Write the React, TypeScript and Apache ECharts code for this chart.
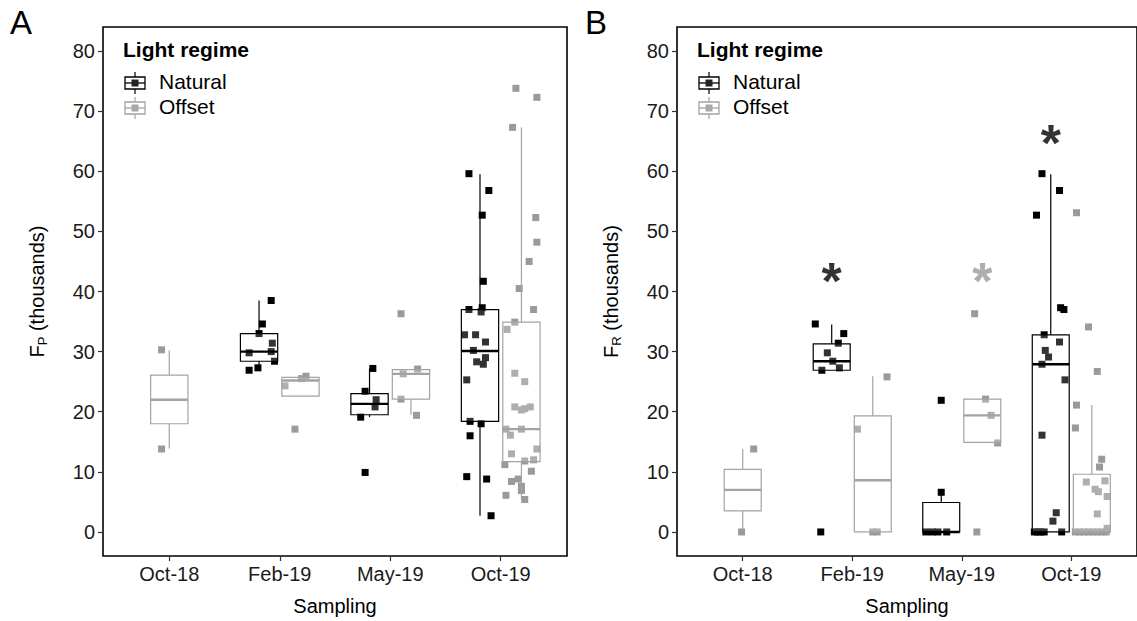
import React, { useEffect, useRef } from "react";
import * as echarts from "echarts";

// ---------------- data ----------------
const categories = ["Oct-18", "Feb-19", "May-19", "Oct-19"];
const yTicks = [0, 10, 20, 30, 40, 50, 60, 70, 80];
const groups = ["Natural", "Offset"];

// box statistics: [category (1-based), lower whisker, q1, median, q3, upper whisker]
const natBoxA = [
  [2, 26.9, 28.4, 30.0, 33.0, 38.5],
  [3, 19.1, 19.5, 21.3, 23.0, 27.2],
  [4, 2.7, 18.4, 30.1, 37.0, 59.5],
];
const offBoxA = [
  [1, 13.9, 18.0, 22.0, 26.1, 30.2],
  [2, 22.6, 22.6, 25.2, 25.7, 25.9],
  [3, 19.5, 22.1, 26.3, 27.0, 27.1],
  [4, 5.4, 11.7, 17.1, 34.9, 67.3],
];
const natBoxB = [
  [2, 26.9, 26.9, 28.4, 31.3, 34.5],
  [3, 0, 0, 0, 4.9, 6.6],
  [4, 0, 0, 27.9, 32.8, 59.5],
];
const offBoxB = [
  [1, 0, 3.5, 7.0, 10.4, 13.8],
  [2, 0, 0, 8.6, 19.3, 25.9],
  [3, 14.9, 14.9, 19.4, 22.1, 22.1],
  [4, 0, 0, 0, 9.6, 21.1],
];

// individual observations: [category, jitter (category units), value in thousands]
const natPtsA = [
  [2, 0.11, 38.5], [2, 0.03, 34.6], [2, 0.0, 33.0], [2, 0.12, 31.4], [2, -0.09, 29.8], [2, 0.11, 30.0], [2, 0.14, 28.4], [2, -0.01, 27.3], [2, -0.09, 26.9],
  [3, 0.03, 27.2], [3, -0.04, 23.4], [3, 0.06, 22.0], [3, 0.05, 20.8], [3, -0.08, 19.1], [3, -0.04, 9.9],
  [4, -0.10, 59.6], [4, 0.08, 56.8], [4, 0.02, 52.7], [4, 0.03, 41.7], [4, -0.10, 37.0], [4, 0.02, 37.3], [4, 0.01, 36.6], [4, -0.14, 32.8], [4, -0.04, 32.8], [4, 0.05, 31.6], [4, -0.06, 30.2], [4, 0.05, 29.0], [4, -0.03, 28.3], [4, 0.03, 27.9], [4, -0.12, 25.3], [4, -0.09, 18.4], [4, 0.01, 18.0], [4, -0.09, 16.0], [4, -0.12, 9.2], [4, 0.06, 8.8], [4, 0.10, 2.7],
];
const offPtsA = [
  [1, -0.07, 30.3], [1, -0.07, 13.8],
  [2, 0.05, 25.9], [2, 0.01, 25.5], [2, -0.14, 24.3], [2, -0.05, 17.1],
  [3, -0.09, 36.3], [3, -0.07, 26.3], [3, 0.06, 27.1], [3, -0.09, 22.1], [3, 0.05, 19.4],
  [4, -0.05, 73.8], [4, 0.14, 72.3], [4, -0.08, 67.3], [4, 0.13, 52.3], [4, 0.14, 48.2], [4, 0.07, 45.0], [4, -0.02, 40.5], [4, 0.11, 37.0], [4, -0.06, 34.9], [4, -0.13, 33.7], [4, -0.06, 26.4], [4, 0.03, 25.0], [4, -0.06, 20.8], [4, 0.0, 20.3], [4, 0.08, 20.8], [4, 0.03, 20.5], [4, -0.14, 17.1], [4, 0.0, 17.1], [4, -0.10, 16.1], [4, -0.09, 13.0], [4, 0.14, 13.8], [4, -0.15, 11.2], [4, 0.03, 11.8], [4, 0.11, 12.0], [4, 0.09, 10.1], [4, -0.09, 8.4], [4, -0.03, 8.8], [4, 0.0, 7.6], [4, 0.0, 6.9], [4, -0.14, 6.1], [4, 0.03, 5.4],
];
const natPtsB = [
  [2, -0.15, 34.6], [2, 0.11, 33.0], [2, 0.06, 31.4], [2, -0.04, 29.8], [2, 0.01, 28.4], [2, 0.07, 27.3], [2, -0.09, 26.9], [2, -0.10, 0],
  [3, 0.0, 21.9], [3, 0.0, 6.6], [3, -0.14, 0], [3, -0.08, 0], [3, -0.03, 0], [3, 0.05, 0],
  [4, -0.08, 59.6], [4, 0.08, 56.8], [4, -0.13, 52.7], [4, 0.09, 37.3], [4, 0.12, 37.0], [4, -0.06, 32.8], [4, 0.08, 31.6], [4, -0.05, 30.2], [4, -0.02, 29.1], [4, -0.08, 27.9], [4, 0.13, 25.3], [4, -0.08, 16.1], [4, 0.05, 3.2], [4, 0.02, 1.8], [4, -0.15, 0], [4, -0.12, 0], [4, -0.09, 0], [4, -0.06, 0], [4, 0.10, 0],
];
const offPtsB = [
  [1, 0.10, 13.8], [1, -0.01, 0],
  [2, 0.13, 25.8], [2, -0.14, 17.1], [2, 0.0, 0], [2, 0.04, 0],
  [3, -0.07, 36.3], [3, 0.03, 22.1], [3, 0.08, 19.4], [3, 0.14, 14.8], [3, -0.05, 0],
  [4, -0.14, 53.1], [4, -0.03, 34.1], [4, 0.05, 26.7], [4, -0.14, 21.1], [4, -0.15, 17.3], [4, 0.09, 12.1], [4, 0.07, 10.8], [4, -0.05, 8.3], [4, 0.12, 8.5], [4, 0.03, 7.1], [4, 0.06, 6.7], [4, 0.14, 5.9], [4, 0.05, 3.0], [4, 0.14, 0.6], [4, -0.15, 0], [4, -0.11, 0], [4, -0.07, 0], [4, -0.03, 0], [4, 0.01, 0], [4, 0.05, 0], [4, 0.09, 0], [4, 0.13, 0],
];

// significance marks on panel B: [category, group index, y]
const starsB = [
  [2, 0, 43.9],
  [3, 1, 43.9],
  [4, 0, 66.9],
];

// ---------------- styling ----------------
const FONT = "'Liberation Sans', Arial, Helvetica, sans-serif";
const NAT = "#000000";
const OFF = "#9a9a9a";
const OFF_LINE = "#a3a3a3";
const DODGE = 0.1875;
const BOXW = 0.3375;

function groupCenter(cat: number, g: number, natCats: number[]) {
  const both = natCats.includes(cat);
  if (!both) return cat;
  return cat + (g === 0 ? -DODGE : DODGE);
}

function App() {
  const ref = useRef<HTMLDivElement>(null);
  useEffect(() => {
    const chart = echarts.init(ref.current!, null, { renderer: "svg" });

    const panels = [
      { nat: natBoxA, off: offBoxA, natP: natPtsA, offP: offPtsA, sub: "P", stars: [] as number[][] },
      { nat: natBoxB, off: offBoxB, natP: natPtsB, offP: offPtsB, sub: "R", stars: starsB },
    ];
    const gridLeft = [103, 677];
    const gridWidth = [464, 468];

    const grids: any[] = [];
    const xAxes: any[] = [];
    const yAxes: any[] = [];
    const series: any[] = [];

    panels.forEach((p, i) => {
      const natCats = p.nat.map((b) => b[0]);
      grids.push({
        left: gridLeft[i], top: 27, width: gridWidth[i], height: 530,
        show: true, borderColor: "#000", borderWidth: 1.6, backgroundColor: "transparent",
      });
      xAxes.push({
        gridIndex: i, type: "value", min: 0.4, max: 4.6, position: "bottom",
        splitLine: { show: false }, axisLine: { show: false, onZero: false },
        axisTick: { show: true, length: 5, customValues: [1, 2, 3, 4], lineStyle: { color: "#333", width: 1.2 } },
        axisLabel: {
          customValues: [1, 2, 3, 4], formatter: (v: number) => categories[Math.round(v) - 1] || "",
          color: "#1a1a1a", fontSize: 20, fontFamily: FONT, margin: 8,
        },
        name: "Sampling", nameLocation: "middle", nameGap: 40,
        nameTextStyle: { color: "#000", fontSize: 20, fontFamily: FONT },
      });
      yAxes.push({
        gridIndex: i, type: "value", min: -4, max: 84,
        splitLine: { show: false }, axisLine: { show: false, onZero: false },
        axisTick: { show: true, length: 5, customValues: yTicks, lineStyle: { color: "#333", width: 1.2 } },
        axisLabel: {
          customValues: yTicks, color: "#1a1a1a", fontSize: 20, fontFamily: FONT, margin: 8,
        },
        name: `{f|F}{s|${p.sub}}{f| (thousands)}`, nameLocation: "middle", nameGap: 54, nameRotate: 90,
        nameTextStyle: {
          color: "#000", fontFamily: FONT,
          rich: {
            f: { fontSize: 20, lineHeight: 24, fontFamily: FONT, color: "#000" },
            s: { fontSize: 13, lineHeight: 13, verticalAlign: "bottom", fontFamily: FONT, color: "#000" },
          },
        },
      });

      const mkPts = (arr: number[][], g: number) =>
        arr.map((d) => [groupCenter(d[0], g, natCats) + d[1], d[2]]);
      series.push({
        type: "scatter", name: groups[0], xAxisIndex: i, yAxisIndex: i, z: 2,
        symbol: "rect", symbolSize: 7, itemStyle: { color: NAT, opacity: 1 },
        data: mkPts(p.natP, 0),
      });
      series.push({
        type: "scatter", name: groups[1], xAxisIndex: i, yAxisIndex: i, z: 2,
        symbol: "rect", symbolSize: 7, itemStyle: { color: OFF, opacity: 1 },
        data: mkPts(p.offP, 1),
      });

      const mkBox = (arr: number[][], g: number) =>
        arr.map((b) => [groupCenter(b[0], g, natCats), b[1], b[2], b[3], b[4], b[5]]);
      const boxRender = (color: string) => (params: any, api: any) => {
        const x = api.value(0);
        const lo = api.coord([x, api.value(1)]);
        const q1 = api.coord([x, api.value(2)]);
        const md = api.coord([x, api.value(3)]);
        const q3 = api.coord([x, api.value(4)]);
        const hi = api.coord([x, api.value(5)]);
        const w = api.size([BOXW, 0])[0];
        return {
          type: "group",
          children: [
            { type: "line", shape: { x1: q3[0], y1: q3[1], x2: hi[0], y2: hi[1] }, style: { stroke: color, lineWidth: 1.2 } },
            { type: "line", shape: { x1: lo[0], y1: lo[1], x2: q1[0], y2: q1[1] }, style: { stroke: color, lineWidth: 1.2 } },
            {
              type: "rect", shape: { x: q3[0] - w / 2, y: q3[1], width: w, height: q1[1] - q3[1] },
              style: { fill: "rgba(255,255,255,0.2)", stroke: color, lineWidth: 1.2 },
            },
            { type: "line", shape: { x1: md[0] - w / 2, y1: md[1], x2: md[0] + w / 2, y2: md[1] }, style: { stroke: color, lineWidth: 2.4 } },
          ],
        };
      };
      series.push({
        type: "custom", name: groups[0] + " box", xAxisIndex: i, yAxisIndex: i, z: 3,
        renderItem: boxRender(NAT), encode: { x: 0, y: [1, 2, 3, 4, 5] },
        data: mkBox(p.nat, 0),
      });
      series.push({
        type: "custom", name: groups[1] + " box", xAxisIndex: i, yAxisIndex: i, z: 3,
        renderItem: boxRender(OFF_LINE), encode: { x: 0, y: [1, 2, 3, 4, 5] },
        data: mkBox(p.off, 1),
      });

      if (p.stars.length) {
        series.push({
          type: "scatter", name: "significance", xAxisIndex: i, yAxisIndex: i, z: 4,
          symbolSize: 1, itemStyle: { color: "transparent" }, silent: true,
          data: p.stars.map((s) => ({
            value: [groupCenter(s[0], s[1], natCats), s[2]],
            label: {
              show: true, position: "inside", formatter: "*", offset: [0, 13],
              fontSize: 52, fontWeight: "bold", fontFamily: FONT, color: s[1] === 0 ? NAT : OFF,
            },
          })),
        });
      }
    });

    // legend drawn as graphics (one per panel)
    const graphics: any[] = [];
    const legendIcon = (cx: number, cy: number, color: string, pt: string) => [
      { type: "line", shape: { x1: cx, y1: cy - 11, x2: cx, y2: cy + 11 }, style: { stroke: color, lineWidth: 1.2 } },
      { type: "rect", shape: { x: cx - 10, y: cy - 6, width: 20, height: 12 }, style: { fill: "#fff", stroke: color, lineWidth: 1.3 } },
      { type: "line", shape: { x1: cx - 10, y1: cy, x2: cx + 10, y2: cy }, style: { stroke: color, lineWidth: 1.3 } },
      { type: "rect", shape: { x: cx - 3.5, y: cy - 3.5, width: 7, height: 7 }, style: { fill: pt } },
    ];
    gridLeft.forEach((gl, i) => {
      const x0 = gl + 20;
      graphics.push({
        type: "text", left: x0, top: 39,
        style: { text: "Light regime", fontSize: 21, fontWeight: "bold", fontFamily: FONT, fill: "#000" },
      });
      graphics.push(...legendIcon(x0 + 12, 83, "#000", "#222"));
      graphics.push(...legendIcon(x0 + 12, 108, OFF_LINE, "#a8a8a8"));
      graphics.push({
        type: "text", left: x0 + 36, top: 71,
        style: { text: groups[0], fontSize: 21, fontFamily: FONT, fill: "#000" },
      });
      graphics.push({
        type: "text", left: x0 + 36, top: 96,
        style: { text: groups[1], fontSize: 21, fontFamily: FONT, fill: "#000" },
      });
      graphics.push({
        type: "text", left: i === 0 ? 10 : 585, top: 6,
        style: { text: i === 0 ? "A" : "B", fontSize: 33, fontFamily: FONT, fill: "#000" },
      });
    });

    chart.setOption({
      animation: false,
      backgroundColor: "#ffffff",
      textStyle: { fontFamily: FONT },
      grid: grids,
      xAxis: xAxes,
      yAxis: yAxes,
      series,
      graphic: graphics,
    });
    return () => chart.dispose();
  }, []);

  return (
    <div
      ref={ref}
      style={{ position: "fixed", left: 0, top: 0, width: 1137, height: 621, background: "#fff" }}
    />
  );
}

export default App;
